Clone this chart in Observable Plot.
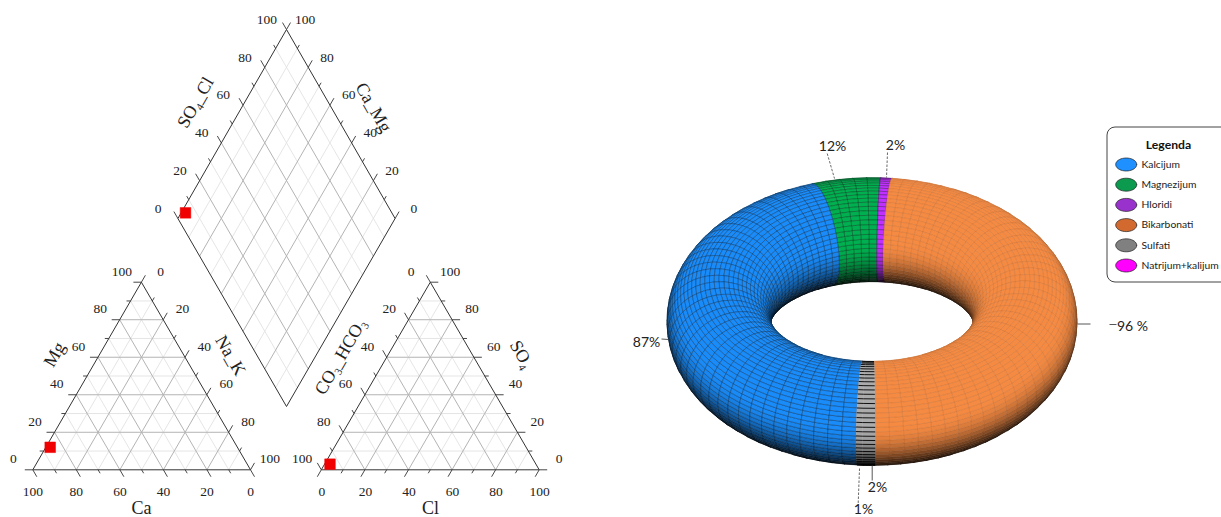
<!DOCTYPE html>
<html><head><meta charset="utf-8">
<style>html,body{margin:0;padding:0;background:#fff}svg{display:block}</style>
<script src="https://cdn.jsdelivr.net/npm/d3@7"></script>
<script src="https://cdn.jsdelivr.net/npm/@observablehq/plot@0.6"></script>
</head><body><div id="c"></div>
<script>
// ---- data ----
const pctMajor = [0, 20, 40, 60, 80, 100];
const pctMinor = [10, 30, 50, 70, 90];
const cations = {Ca: 86, Mg: 12, NaK: 2};
const anions = {Cl: 2.5, SO4: 3, HCO3: 94.5};
const diamondPoint = {SO4Cl: 5, CaMg: 98};
const ringNames = ["Bikarbonati", "Sulfati", "Natrijum+kalijum", "Kalcijum", "Magnezijum", "Hloridi"];
const ringValues = [96, 2, 1, 87, 12, 2];
const ringColors = ["#F58A42", "#ABABAB", "#ABABAB", "#1A8CFA", "#00B050", "#C030FF"];
const legendNames = ["Kalcijum", "Magnezijum", "Hloridi", "Bikarbonati", "Sulfati", "Natrijum+kalijum"];
const legendColors = ["#1E90FF", "#0B9A4E", "#9932CC", "#D2692F", "#808080", "#FF00FF"];
const ringLabels = [
  {t: "12%", x: 832, y: 146, x1: 826.7, y1: 153, x2: 834, y2: 178, dash: "2.5,1.5"},
  {t: "2%", x: 895, y: 145, x1: 887, y1: 152, x2: 886, y2: 177, dash: "2.5,1.5"},
  {t: "87%", x: 646, y: 342, x1: 661, y1: 338.5, x2: 668, y2: 339, dash: null},
  {t: "96 %", x: 1132, y: 326, x1: 1077, y1: 323.5, x2: 1090, y2: 323.5, dash: null},
  {t: "2%", x: 877, y: 487, x1: 871.7, y1: 465, x2: 871.7, y2: 480, dash: null},
  {t: "1%", x: 863, y: 509.5, x1: 859, y1: 468, x2: 857.7, y2: 503, dash: "3,2"}
];
const extraDash = [{x1: 1109, y1: 324, x2: 1116, y2: 324}];

// ---- frames ----
const lerp = (p, q, k) => [p[0] + (q[0] - p[0]) * k / 100, p[1] + (q[1] - p[1]) * k / 100];
const rows = {grid: [], major: [], frame: [], tick: [], label: [], title: []};
const lift = (p, d, len) => [p[0] + d[0] * len, p[1] + d[1] * len];
const upL = [-.5, -.866], upR = [.5, -.866], dnR = [.5, .866], dnL = [-.5, .866];
function edge(a, b, dir, off, labelOf) {
  for (const [vals, len] of [[pctMajor, 8], [pctMinor, 4]]) for (const k of vals) {
    const p = lerp(a, b, k), q = lift(p, dir, len);
    rows.tick.push({x1: p[0], y1: p[1], x2: q[0], y2: q[1]});
  }
  if (labelOf) for (const k of pctMajor) {
    const p = lerp(a, b, k);
    rows.label.push({x: p[0] + off[0], y: p[1] + off[1], t: String(labelOf(k))});
  }
}
function grid(a, b, c, d) {
  for (const [vals, key] of [[pctMajor.slice(1, -1), "major"], [pctMinor, "grid"]]) for (const k of vals) {
    const p = lerp(a, b, k), q = lerp(c, d, k);
    rows[key].push({x1: p[0], y1: p[1], x2: q[0], y2: q[1]});
  }
}
function triangle(A, B, C) { // A bottom left, B bottom right, C top
  grid(A, C, B, C); grid(B, A, C, A); grid(A, B, C, B);
  for (const [p, q] of [[A, B], [B, C], [C, A]]) rows.frame.push({x1: p[0], y1: p[1], x2: q[0], y2: q[1]});
}
const LA = [32.3, 469.3], LB = [250, 469.3], LC = [140.9, 281.7];
const RA = [320.8, 469.3], RB = [538.7, 469.3], RC = [429.8, 281.7];
const DT = [286, 29], DL = [177.4, 218], DR = [394.6, 218], DB = [286, 406];
triangle(LA, LB, LC); triangle(RA, RB, RC);
grid(DL, DT, DB, DR); grid(DB, DL, DR, DT);
for (const [p, q] of [[DT, DL], [DL, DB], [DB, DR], [DR, DT]]) rows.frame.push({x1: p[0], y1: p[1], x2: q[0], y2: q[1]});
const same = k => k, inv = k => 100 - k;
edge(LA, LC, [-1, 0], [-19.5, -11], same);
edge(LC, LB, upR, [19.3, -11], same);
edge(LB, LA, dnR, [0, 22], same);
edge(RA, RC, upL, [-19.3, -11], inv);
edge(RB, RC, [1, 0], [19.8, -11], same);
edge(RA, RB, dnL, [0.5, 22], same);
edge(DL, DT, upL, [-19.7, -10], same);
edge(DR, DT, upR, [18.7, -10], same);

const axisTitles = [
  {t: "Ca", x: 141, y: 507.5, r: 0, s: 18},
  {t: "Mg", x: 54, y: 354, r: -60, s: 18},
  {t: "Na_K", x: 230, y: 355, r: 60, s: 18},
  {t: "Cl", x: 430, y: 507.5, r: 0, s: 18},
  {t: "CO₃_HCO₃", x: 340, y: 356, r: -60, s: 18},
  {t: "SO₄", x: 521, y: 354, r: 60, s: 18},
  {t: "SO₄_Cl", x: 195, y: 102, r: -60, s: 18},
  {t: "Ca_Mg", x: 373, y: 107, r: 60, s: 18}
];

const triPoint = (A, B, C, toB, toC) => [A[0] + (B[0] - A[0]) * toB / 100 + (C[0] - A[0]) * toC / 100,
                                         A[1] + (B[1] - A[1]) * toB / 100 + (C[1] - A[1]) * toC / 100];
const reds = [
  triPoint(LA, LB, LC, cations.NaK, cations.Mg),
  triPoint(RA, RB, RC, anions.Cl, anions.SO4),
  [DB[0] + (DR[0] - DB[0]) * diamondPoint.SO4Cl / 100 + (DL[0] - DB[0]) * diamondPoint.CaMg / 100,
   DB[1] + (DR[1] - DB[1]) * diamondPoint.SO4Cl / 100 + (DL[1] - DB[1]) * diamondPoint.CaMg / 100]
].map(([x, y]) => ({x, y}));

// ---- torus mesh ----
const cx = 871.5, cy = 321, R = 153, r = 52, sinE = 0.6, cosE = 0.8;
const rad = Math.PI / 180;
const light = (() => { const v = [0, -0.4, 1], n = Math.hypot(...v); return v.map(d => d / n); })();
const pos = (a, t) => {
  const rho = R + r * Math.cos(t), X = rho * Math.sin(a), Y = rho * Math.cos(a), Z = r * Math.sin(t);
  return {sx: cx + X, sy: cy - (Y * sinE + Z * cosE), d: -Y * cosE + Z * sinE};
};
function shade(hex, i) {
  const c = d3.rgb(hex);
  return d3.rgb(c.r * i, c.g * i, c.b * i).formatHex();
}
const smooth = (lo, hi, x) => { const u = Math.min(1, Math.max(0, (x - lo) / (hi - lo))); return u * u * (3 - 2 * u); };
const cells = [], greyRows = [];
const rowsAround = 68;
let start = 6.3;
ringValues.forEach((v, si) => {
  const span = v * 360 / d3.sum(ringValues);
  const cols = Math.max(1, Math.round(span / 4));
  const isGrey = si === 1 || si === 2, isWarm = si === 0;
  for (let c = 0; c < cols; c++) {
    const a0 = (start + span * c / cols) * rad, a1 = (start + span * (c + 1) / cols) * rad;
    for (let q = 0; q < rowsAround; q++) {
      const t0 = q * 2 * Math.PI / rowsAround, t1 = (q + 1) * 2 * Math.PI / rowsAround;
      const am = (a0 + a1) / 2, tm = (t0 + t1) / 2;
      const n = [Math.cos(tm) * Math.sin(am), Math.cos(tm) * Math.cos(am), Math.sin(tm)];
      if (-n[1] * cosE + n[2] * sinE <= 0) continue;
      const l = n[0] * light[0] + n[1] * light[1] + n[2] * light[2];
      const i = 0.14 + 0.86 * smooth(0.24, 0.86, (l + 1) / 2);
      const fill = shade(ringColors[si], i);
      const stroke = isGrey ? fill : isWarm ? shade(ringColors[si], i * 0.86) : shade(ringColors[si], i * 0.45);
      const pts = [pos(a0, t0), pos(a1, t0), pos(a1, t1), pos(a0, t1), pos(a0, t0)];
      cells.push({pts, fill, stroke, d: pos(am, tm).d});
      if (isGrey) greyRows.push({x1: pts[0].sx, y1: pts[0].sy, x2: pts[1].sx, y2: pts[1].sy});
    }
  }
  start += span;
});
cells.sort((p, q) => p.d - q.d);
const meshPoints = cells.flatMap((c, id) => c.pts.map(p => ({x: p.sx, y: p.sy, id, fill: c.fill, stroke: c.stroke})));

// ---- legend ----
const legendY = i => 164 + i * 20.2;
const ellipse = (i) => d3.range(0, 37).map(k => ({
  i, x: 1125.7 + 10.5 * Math.cos(k * 10 * rad), y: legendY(i) + 6.5 * Math.sin(k * 10 * rad), fill: legendColors[i]
}));
const legendPts = legendNames.flatMap((_, i) => ellipse(i));

const serif = "Liberation Serif";
const sans = "Lato";
const link = (d, o) => Plot.link(d, {x1: "x1", y1: "y1", x2: "x2", y2: "y2", ...o});
const plot = Plot.plot({
  width: 1221, height: 517,
  marginLeft: 0, marginRight: 0, marginTop: 0, marginBottom: 0,
  x: {domain: [0, 1221], range: [0, 1221], axis: null},
  y: {domain: [0, 517], range: [0, 517], axis: null},
  style: {background: "#fff"},
  marks: [
    link(rows.grid, {stroke: "#e2e2e2", strokeWidth: 0.9}),
    link(rows.major, {stroke: "#b4b4b4", strokeWidth: 1}),
    link(rows.tick, {stroke: "#333", strokeWidth: 0.9}),
    link(rows.frame, {stroke: "#333", strokeWidth: 1}),
    Plot.text(rows.label, {x: "x", y: "y", text: "t", fontFamily: serif, fontSize: 13.5, fill: "#222", textAnchor: "middle", lineAnchor: "middle"}),
    ...axisTitles.map(d => Plot.text([d], {x: "x", y: "y", text: "t", rotate: d.r, fontFamily: serif, fontSize: d.s, fill: "#222", textAnchor: "middle", lineAnchor: "middle"})),
    Plot.dot(reds, {x: "x", y: "y", symbol: "square", r: 6, fill: "#F00000", stroke: "#F00000", strokeWidth: 0.5}),
    Plot.line(meshPoints, {x: "x", y: "y", z: "id", fill: "fill", stroke: "stroke", strokeWidth: 0.5, curve: "linear", strokeLinejoin: "round"}),
    link(greyRows, {stroke: "#000", strokeWidth: 0.9}),
    link(ringLabels.filter(d => d.dash), {stroke: "#444", strokeWidth: 0.8, strokeDasharray: "2.5,1.5"}),
    link(ringLabels.filter(d => !d.dash), {stroke: "#444", strokeWidth: 0.9}),
    link(extraDash, {stroke: "#444", strokeWidth: 0.9}),
    Plot.text(ringLabels, {x: "x", y: "y", text: "t", fontFamily: sans, fontSize: 14, fill: "#222", textAnchor: "middle", lineAnchor: "middle"}),
    Plot.rect([{x1: 1107, x2: 1232, y1: 127, y2: 282}], {x1: "x1", x2: "x2", y1: "y1", y2: "y2", rx: 8, fill: "#fff", stroke: "#444", strokeWidth: 1, clip: true}),
    Plot.text(["Legenda"], {x: () => 1168, y: () => 145, text: d => d, fontFamily: sans, fontWeight: "bold", fontSize: 12.2, fill: "#111", textAnchor: "middle", lineAnchor: "middle"}),
    Plot.line(legendPts, {x: "x", y: "y", z: "i", fill: "fill", stroke: "#222", strokeWidth: 0.7}),
    Plot.text(legendNames, {x: () => 1141, y: (d, i) => legendY(i), text: d => d, fontFamily: sans, fontSize: 10.3, fill: "#222", textAnchor: "start", lineAnchor: "middle"})
  ]
});
document.getElementById("c").appendChild(plot);
</script></body></html>
